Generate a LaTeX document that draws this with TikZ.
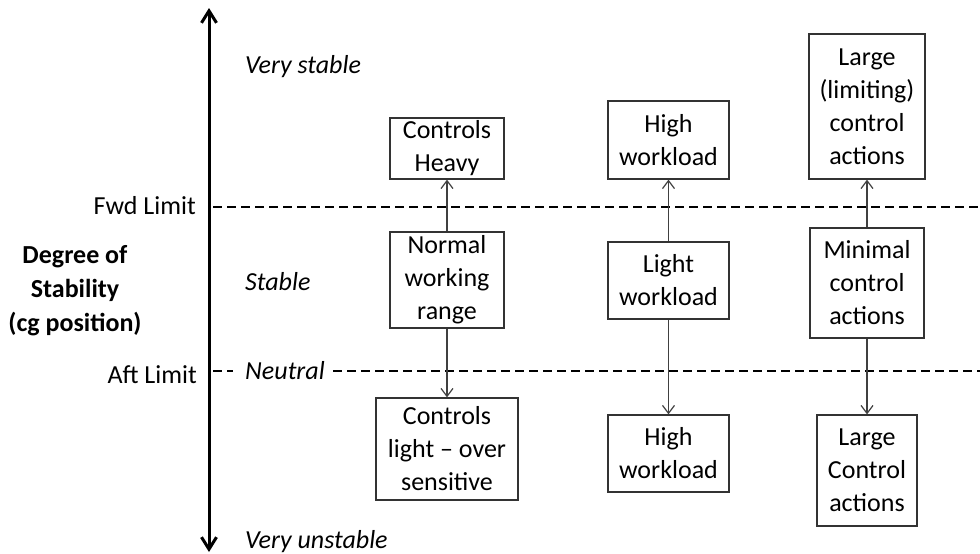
\documentclass[tikz,border=0pt]{standalone}
\usepackage{fontspec}
\setmainfont{Carlito}
\usetikzlibrary{arrows.meta}
\begin{document}
\begin{tikzpicture}[x=1pt,y=-1pt,
  txt/.style={font=\fontsize{26}{33}\selectfont, inner sep=0pt},
  box/.style={txt, draw=black!80, line width=1.2pt, align=center},
  itl/.style={txt, font=\fontsize{26}{33}\selectfont\itshape, anchor=base west},
  conn/.style={draw=black!75, line width=1.2pt, -{Straight Barb[length=8pt,width=12pt]}},
  lim/.style={draw=black, line width=1.2pt, dash pattern=on 9pt off 5pt}]
\useasboundingbox (0,0) rectangle (980,554);

% vertical axis
\coordinate (axtop) at (209,8);
\coordinate (axbot) at (209,552);
\draw[line width=3pt, {Straight Barb[length=12pt,width=15pt]}-{Straight Barb[length=12pt,width=15pt]}] (axtop) -- (axbot);

% limit lines
\coordinate (fwdA) at (213,207);
\coordinate (fwdB) at (980,207);
\coordinate (aftA) at (213,371);
\coordinate (aftM1) at (233,371);
\coordinate (aftM2) at (333,371);
\coordinate (aftB) at (980,371);
\draw[lim] (fwdA) -- (fwdB);
\draw[lim] (aftA) -- (aftM1);
\draw[lim] (aftM2) -- (aftB);

\node[txt, anchor=base east] (fwd) at (196,214) {Fwd Limit};
\node[txt, anchor=base east] (aft) at (197,383) {Aft Limit};

\node[txt, font=\fontsize{26}{34}\selectfont\bfseries, align=center] (deg) at (75,291) {Degree of\\Stability\\(cg position)};

\node[itl] (vs) at (245,73) {Very stable};
\node[itl] (st) at (245,290) {Stable};
\node[itl] (neu) at (245,379) {Neutral};
\node[itl] (vu) at (245,548) {Very unstable};

% column 1
\node[box, minimum width=114pt, minimum height=61pt] (ch) at (447,148.5) {Controls\\Heavy};
\node[box, minimum width=114pt, minimum height=96pt] (nw) at (447,280) {Normal\\working\\range};
\node[box, minimum width=142pt, minimum height=102pt] (cl) at (447,449) {Controls\\light -- over\\sensitive};

% column 2
\node[box, minimum width=121pt, minimum height=78pt] (hw1) at (668.5,140) {High\\workload};
\node[box, minimum width=121pt, minimum height=77pt] (lw) at (668.5,280.5) {Light\\workload};
\node[box, minimum width=121pt, minimum height=77pt] (hw2) at (668.5,453.5) {High\\workload};

% column 3
\node[box, minimum width=116pt, minimum height=145pt] (ll) at (867,106.5) {Large\\(limiting)\\control\\actions};
\node[box, minimum width=114pt, minimum height=110pt] (mc) at (867,283) {Minimal\\control\\actions};
\node[box, minimum width=100pt, minimum height=111pt] (lc) at (867,470.5) {Large\\Control\\actions};

% connectors
\draw[conn] (nw.north) -- (ch.south);
\draw[conn] (nw.south) -- (cl.north);
\draw[conn] (lw.north) -- (hw1.south);
\draw[conn] (lw.south) -- (hw2.north);
\draw[conn] (mc.north) -- (ll.south);
\draw[conn] (mc.south) -- (lc.north);
\end{tikzpicture}
\end{document}
